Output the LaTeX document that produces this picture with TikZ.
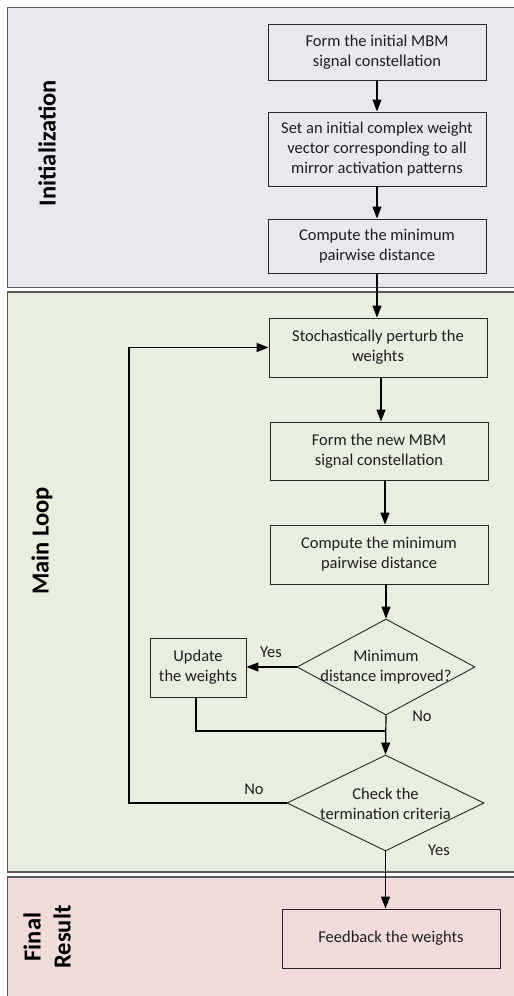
\documentclass[tikz,border=0pt]{standalone}
\usepackage{fontspec}
\setmainfont{Carlito}
\usetikzlibrary{shapes.geometric,arrows.meta}
\definecolor{initfill}{HTML}{EAE8EF}
\definecolor{mainfill}{HTML}{E9EFDF}
\definecolor{finalfill}{HTML}{F2DCDB}
\definecolor{panelline}{HTML}{5A5A5A}
\definecolor{txt}{HTML}{1E1E1E}
\begin{document}
\begin{tikzpicture}[x=1pt,y=-1pt,
  panel/.style={draw=panelline,line width=1.6pt},
  stepbox/.style={draw=black!85,line width=0.9pt,rectangle,inner sep=0pt,
    minimum width=218pt,align=center,text=txt,font=\fontsize{16.5}{20}\selectfont},
  decision/.style={draw=black!85,line width=0.9pt,diamond,inner sep=0pt,minimum height=96pt},
  dtext/.style={align=center,text=txt,font=\fontsize{16.5}{20}\selectfont},
  lanelabel/.style={rotate=90,align=center,text=black,font=\fontsize{24.5}{30}\selectfont\bfseries},
  lbl/.style={text=txt,font=\fontsize{16.5}{20}\selectfont},
  arr/.style={draw=black,line width=1.2pt,-{Triangle[length=12pt,width=9pt]}},
  ln/.style={draw=black,line width=1.2pt}]
\useasboundingbox (0,0) rectangle (514,996);
% panels
\path[panel,fill=initfill] (7.5,7.5) rectangle (540,287.5);
\path[panel,fill=mainfill] (7.5,292) rectangle (540,872);
\path[panel,fill=finalfill] (7.5,877) rectangle (540,1010);
% lane labels
\node[lanelabel] (linit) at (47,143) {Initialization};
\node[lanelabel] (lmain) at (42,541) {Main Loop};
\node[lanelabel] (lfinal) at (47,937) {Final\\Result};
% steps
\node[stepbox,minimum height=56pt] (b1) at (377,52) {Form the initial MBM\\signal constellation};
\node[stepbox,minimum height=74pt] (b2) at (377,149) {Set an initial complex weight\\vector corresponding to all\\mirror activation patterns};
\node[stepbox,minimum height=54pt] (b3) at (377,246) {Compute the minimum\\pairwise distance};
\node[stepbox,minimum height=59pt] (b4) at (378,347.5) {Stochastically perturb the\\weights};
\node[stepbox,minimum height=58pt] (b5) at (379,451) {Form the new MBM\\signal constellation};
\node[stepbox,minimum height=59pt] (b6) at (379,554.5) {Compute the minimum\\pairwise distance};
\node[decision,minimum width=178pt] (d1) at (386,667) {};
\node[dtext] (d1t) at (386,667.5) {Minimum\\distance improved?};
\node[stepbox,minimum width=96pt,minimum height=59pt] (upd) at (198,667.5) {Update\\the weights};
\node[decision,minimum width=197pt] (d2) at (385.5,803) {};
\node[dtext] (d2t) at (385.5,804) {Check the\\termination criteria};
\node[stepbox,minimum height=59pt] (b7) at (391,938.5) {Feedback the weights};
% helper coordinates
\coordinate (jn) at (386,731);
\coordinate (lp) at (129,803);
% connectors
\draw[arr] (b1) -- (b2);
\draw[arr] (b2) -- (b3);
\draw[arr] (b3.south) -- (b3.south |- b4.north);
\draw[arr] (b4.south -| 381,0) -- (b5.north -| 381,0);
\draw[arr] (b5.south -| 385,0) -- (b6.north -| 385,0);
\draw[arr] (d1.north |- b6.south) -- (d1.north);
\draw[arr] (d1.west) -- (d1.west -| upd.east);
\draw[arr] (d1.south) -- (d2.north);
\draw[ln] (upd.south -| 196,0) |- (jn);
\draw[arr] (d2.west) -- (lp) |- (b4.west);
\draw[arr] (d2.south) -- (d2.south |- b7.north);
% branch labels
\node[lbl] (y1) at (271,652) {Yes};
\node[lbl] (n1) at (422,716) {No};
\node[lbl] (n2) at (254,789) {No};
\node[lbl] (y2) at (439,850) {Yes};
\end{tikzpicture}
\end{document}
